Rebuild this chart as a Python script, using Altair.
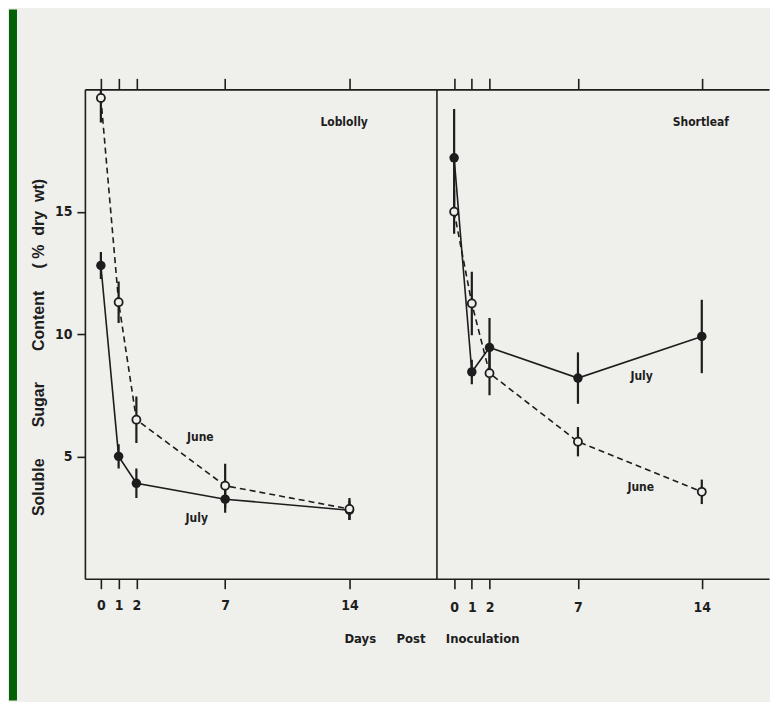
import altair as alt
import pandas as pd

# ---- data ----
days = [0, 1, 2, 7, 14]

loblolly_july = [12.8, 5.0, 3.9, 3.25, 2.8]
loblolly_july_err = [0.55, 0.5, 0.6, 0.55, 0.4]
loblolly_june = [19.65, 11.3, 6.5, 3.8, 2.85]
loblolly_june_err = [1.0, 0.85, 0.95, 0.9, 0.45]

shortleaf_july = [17.2, 8.45, 9.45, 8.2, 9.9]
shortleaf_july_err = [2.0, 0.5, 1.2, 1.05, 1.5]
shortleaf_june = [15.0, 11.25, 8.4, 5.6, 3.55]
shortleaf_june_err = [0.9, 1.3, 0.9, 0.6, 0.5]

panel_names = ["Loblolly", "Shortleaf"]
panel_label_day = [13.7, 13.95]
panel_label_value = [18.65, 18.65]

series_label_species = ["Loblolly", "Loblolly", "Shortleaf", "Shortleaf"]
series_label_text = ["June", "July", "July", "June"]
series_label_day = [5.6, 5.4, 10.6, 10.55]
series_label_value = [5.8, 2.5, 8.3, 3.75]

y_ticks = [5, 10, 15]

# ---- styling ----
INK = "#1d1d1d"
BG = "#efefec"
FRAME = "#066106"
NARROW = "Liberation Sans Narrow, DejaVu Sans Condensed, Liberation Sans, sans-serif"
WIDE = "Liberation Sans, DejaVu Sans, sans-serif"
NB = "\u00a0"

rows = []
for species, month, vals, errs in [
    ("Loblolly", "July", loblolly_july, loblolly_july_err),
    ("Loblolly", "June", loblolly_june, loblolly_june_err),
    ("Shortleaf", "July", shortleaf_july, shortleaf_july_err),
    ("Shortleaf", "June", shortleaf_june, shortleaf_june_err),
]:
    for d, v, e in zip(days, vals, errs):
        rows.append({"species": species, "month": month, "day": d,
                     "value": v, "lo": v - e, "hi": v + e})
df = pd.DataFrame(rows)

panel_df = pd.DataFrame({"species": panel_names, "day": panel_label_day,
                         "value": panel_label_value, "label": panel_names})
series_df = pd.DataFrame({"species": series_label_species, "label": series_label_text,
                          "day": series_label_day, "value": series_label_value})

x_title = "Days" + NB * 5 + "Post" + NB * 5 + "Inoculation"
y_title = ("Soluble" + NB * 7 + "Sugar" + NB * 7 + "Content" + NB * 5 +
           "(" + NB + "%" + NB * 2 + "dry" + NB * 2 + "wt)")


def panel(species, xdomain, width, first):
    d = df[df.species == species]
    pl = panel_df[panel_df.species == species]
    sl = series_df[series_df.species == species]
    xs = alt.Scale(domain=xdomain, nice=False, zero=False)
    ys = alt.Scale(domain=[0, 20], nice=False, zero=False)

    if first:
        bottom_axis = alt.Axis(values=days, tickSize=10, labelPadding=10,
                               labelFontSize=14, labelFont=NARROW,
                               title=x_title, titleX=347, titleY=54, titleAlign="center",
                               titleBaseline="top", titleFontSize=13, titleFont=NARROW)
        yaxis = alt.Axis(values=y_ticks, tickSize=8, labelPadding=5,
                         labelFontSize=14, labelFont=NARROW,
                         title=y_title, titleX=-38, titleY=258, titleFontSize=16,
                         titleFont=WIDE)
    else:
        bottom_axis = alt.Axis(values=days, tickSize=10, labelPadding=12,
                               labelFontSize=14, labelFont=NARROW, title=None)
        yaxis = alt.Axis(labels=False, ticks=False, title=None, domain=True)
    top_axis = alt.Axis(orient="top", values=days, labels=False, tickSize=11, title=None)

    y = alt.Y("value:Q", scale=ys, axis=yaxis)
    xb = alt.X("day:Q", scale=xs, axis=bottom_axis)
    xt = alt.X("day:Q", scale=xs, axis=top_axis)
    xn = alt.X("day:Q", scale=xs, axis=None)

    base = alt.Chart(d)
    line_july = base.transform_filter(alt.datum.month == "July").mark_line(
        color=INK, strokeWidth=1.6).encode(x=xb, y=y)
    line_june = base.transform_filter(alt.datum.month == "June").mark_line(
        color=INK, strokeWidth=1.6, strokeDash=[6, 4]).encode(x=xt, y=y)
    bars = base.mark_rule(color=INK, strokeWidth=2.2, clip=True).encode(
        x=xn, y=alt.Y("lo:Q", scale=ys, axis=yaxis), y2="hi:Q")
    pts_july = base.transform_filter(alt.datum.month == "July").mark_circle(
        color=INK, size=90, opacity=1).encode(x=xn, y=y)
    pts_june = base.transform_filter(alt.datum.month == "June").mark_point(
        shape="circle", filled=True, fill=BG, stroke=INK, strokeWidth=1.8,
        size=65, opacity=1).encode(x=xn, y=y)
    ptxt = alt.Chart(pl).mark_text(font=NARROW, fontSize=12, fontWeight="bold",
                                   color=INK).encode(x=xn, y=y, text="label:N")
    stxt = alt.Chart(sl).mark_text(font=NARROW, fontSize=12, fontWeight="bold",
                                   color=INK).encode(x=xn, y=y, text="label:N")

    layers = [line_july, line_june, bars, pts_july, pts_june, ptxt, stxt]
    if first:
        # green slide frame strip at the far left of the slide
        strip = alt.Chart(pd.DataFrame({"k": [0]})).mark_rect(color=FRAME).encode(
            x=alt.value(-76), x2=alt.value(-68), y=alt.value(-80), y2=alt.value(612))
        layers = layers + [strip]
    return alt.layer(*layers).resolve_axis(x="independent").properties(
        width=width, height=490)


left = panel("Loblolly", [-0.9, 18.9], 352, True)
right = panel("Shortleaf", [-1.0, 17.8], 333, False)

chart = alt.hconcat(left, right, spacing=0, bounds="flush").properties(
    padding={"left": 0, "top": 0, "right": 0, "bottom": 0},
    background=BG,
).configure_view(stroke="transparent").configure_axis(
    grid=False, domainColor=INK, tickColor=INK, labelColor=INK, titleColor=INK,
    domainWidth=1.6, tickWidth=1.6, labelFontWeight="bold", titleFontWeight="bold",
)

chart.save("out.html", embed_options={"renderer": "svg", "actions": False})
